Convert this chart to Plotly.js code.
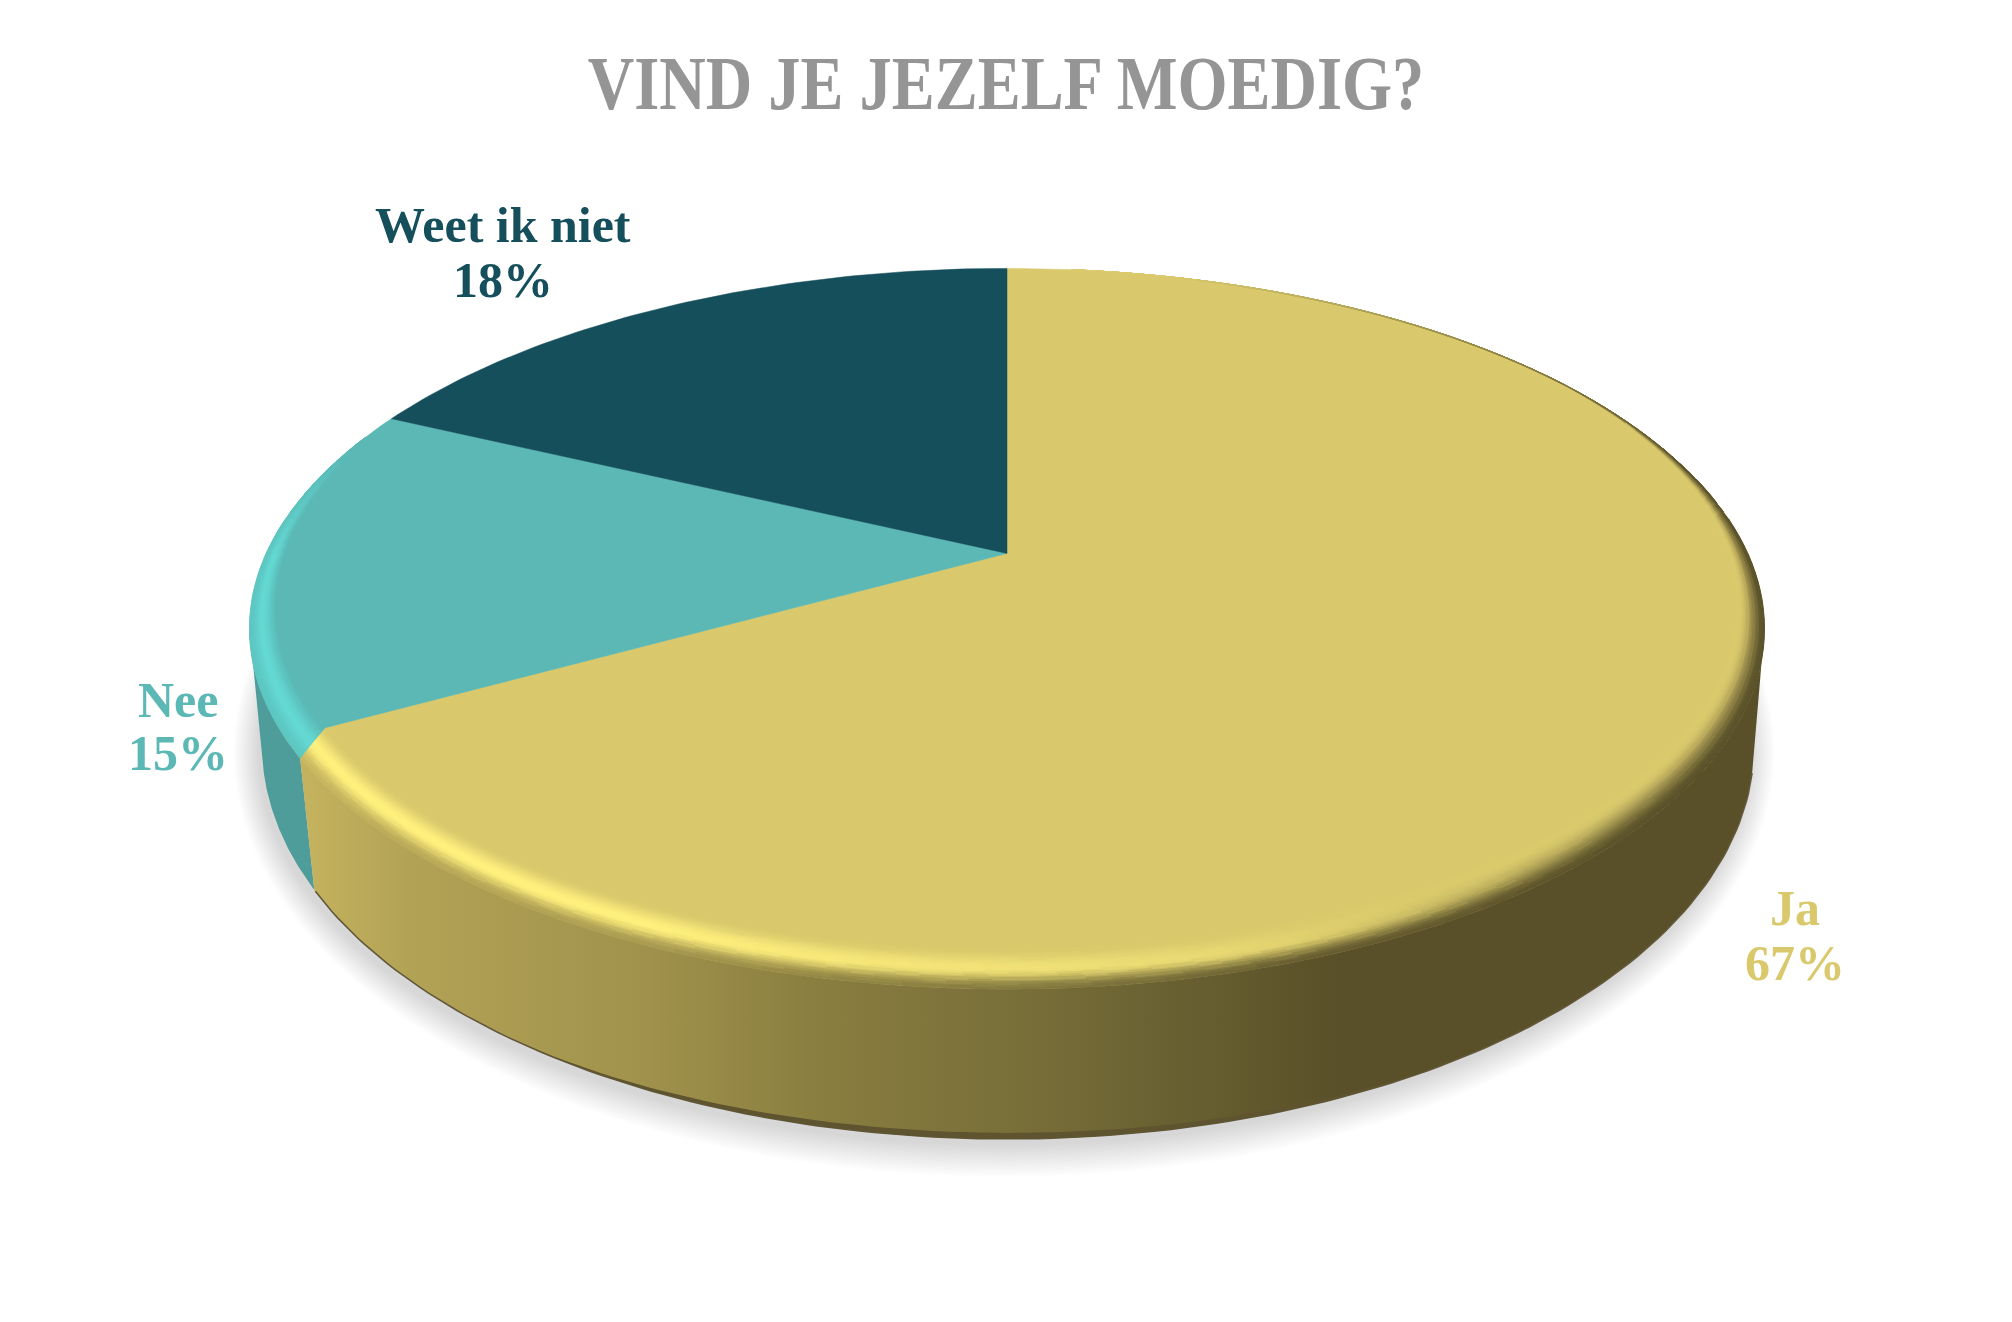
<!DOCTYPE html>
<html><head><meta charset="utf-8">
<script src="https://cdn.plot.ly/plotly-3.0.1.min.js"></script>
<style>html,body{margin:0;padding:0;background:#fff}</style>
</head><body><div id="chart" style="width:2012px;height:1322px"></div>
<script>
// ---- data ----
const titleText = "VIND JE JEZELF MOEDIG?";
const labels = ["Ja", "Nee", "Weet ik niet"];
const values = [67, 15, 18];
const faceColors = ["#d9c96c", "#5bb8b5", "#144f5b"];
const labelColors = ["#d9c96c", "#5bb8b5", "#144f5b"];
const labelX = [1795, 178, 503];
const labelNameY = [908, 700, 225];
const labelPctY = [963, 753, 280];

// ---- perspective of the disc (in layout pixels) ----
const CX = 1007, APEX = 553.4, K = 740.8, C = 0.2087, A = -229;
const BOT = {cx: 1008, K: 738.9, c: 0.1382, a: -291, b: 690.5};
function proj(th, rho) {
  const u = rho * Math.sin(th), v = rho * Math.cos(th), d = 1 + C * v;
  return [CX + K * u / d, (A * v + APEX) / d];
}
function projBot(th) {
  const u = Math.sin(th), v = Math.cos(th), d = 1 + BOT.c * v;
  return [BOT.cx + BOT.K * u / d, (BOT.a * v + BOT.b) / d];
}
const rad = d => d * Math.PI / 180;
const total = values.reduce((a, b) => a + b, 0);
const starts = [], ends = [];
values.reduce((acc, v, i) => { starts[i] = acc; ends[i] = acc + v / total * 360; return ends[i]; }, 0);
const TWIST = 3.1;

function mix(a, b, t) { return a.map((x, i) => x + (b[i] - x) * t); }
function clamp(x) { return Math.max(0, Math.min(1, x)); }
function ramp(x, x0, x1) { return clamp((x - x0) / (x1 - x0)); }
function smooth(x) { const t = clamp(x); return t * t * (3 - 2 * t); }
function hex(h) { return [1, 3, 5].map(i => parseInt(h.substr(i, 2), 16)); }

const traces = [];
function poly(pts, extra) {
  traces.push(Object.assign({
    type: "scatter", mode: "lines", x: pts.map(p => p[0]), y: pts.map(p => p[1]),
    fill: "toself", line: {width: 0}, hoverinfo: "skip", showlegend: false
  }, extra));
}

// ---- soft shadow ----
const SH_N = 20;
for (let i = 0; i < SH_N; i++) {
  const e = 31 - 31 * i / (SH_N - 1), pts = [];
  for (let d = 0; d <= 360; d += 3) {
    const p = Math.sin(rad(d)), q = Math.cos(rad(d));
    pts.push([1004 + (746 + 0.8 * e) * p, 752 - (394 + e) * q]);
  }
  poly(pts, {fillcolor: "rgba(0,0,0,0.0060)"});
}

// ---- side walls: from the tangent of the outline down to the slice corner ----
const jaEnd = ends[0];
const TANGENT_R = 102, TANGENT_L = 258;
function wall(d0top, d0bot, d1top, d1bot, extra) {
  const top = [], bot = [], n = 140;
  for (let i = 0; i <= n; i++) {
    top.push(proj(rad(d0top + (d1top - d0top) * i / n), 1));
    bot.push(projBot(rad(d0bot + (d1bot - d0bot) * i / n)));
  }
  poly(top.concat(bot.reverse()), extra);
}
wall(jaEnd - TWIST, jaEnd, TANGENT_L, TANGENT_L, {fillcolor: "#4e9d9b"});
wall(TANGENT_R, TANGENT_R, jaEnd - TWIST, jaEnd, {
  fillcolor: "#8a7d40",
  fillgradient: {type: "horizontal", start: 308, stop: 1338, colorscale: [
    [0, "rgb(196,178,94)"], [0.1, "rgb(178,162,85)"], [0.33, "rgb(160,146,76)"],
    [0.5, "rgb(137,125,63)"], [0.72, "rgb(117,108,56)"], [1, "rgb(89,80,41)"]]}
});
// thin dark foot of the wall, swelling at the front
(function () {
  const pts = [];
  for (let d = TANGENT_R; d <= jaEnd; d += 1) pts.push(projBot(rad(d)));
  traces.push({type: "scatter", mode: "lines", x: pts.map(p => p[0]), y: pts.map(p => p[1]),
    line: {color: "#62583a", width: 1.6}, hoverinfo: "skip", showlegend: false});
  const low = [], high = [];
  for (let d = 148; d <= 216; d += 1) {
    const p = projBot(rad(d));
    const h = 6 * Math.sin((d - 148) / 68 * Math.PI);
    low.push(p); high.push([p[0], p[1] - h]);
  }
  poly(low.concat(high.reverse()), {fillcolor: "#5e5430"});
})();

// ---- flat faces, drawn from the values ----
values.forEach((v, i) => {
  const pts = [[CX, APEX]], n = Math.ceil(v * 4);
  for (let j = 0; j <= n; j++) pts.push(proj(rad(starts[i] + (ends[i] - starts[i]) * j / n), 1));
  pts.push([CX, APEX]);
  poly(pts, {fillcolor: faceColors[i], line: {width: 0.5, color: faceColors[i]}, name: labels[i]});
});

// ---- rounded rim ----
function rimWidth(d) {
  return Math.max(0.002, 0.027 - 0.047 * Math.cos(rad(d)));
}
const buckets = {};
function addQuad(col, pts) {
  const key = col.map(c => Math.round(c / 2) * 2).join(",");
  (buckets[key] = buckets[key] || []).push(pts);
}
function wallColorAt(x) {
  const stops = [[308, [196,178,94]], [411, [178,162,85]], [648, [160,146,76]], [823, [137,125,63]], [1050, [117,108,56]], [1338, [89,80,41]]];
  if (x <= stops[0][0]) return stops[0][1];
  for (let i = 1; i < stops.length; i++) if (x <= stops[i][0]) {
    return mix(stops[i-1][1], stops[i][1], (x - stops[i-1][0]) / (stops[i][0] - stops[i-1][0]));
  }
  return stops[stops.length - 1][1];
}
const NT = 18;
function rho(d, t) { return 1 - rimWidth(d) * (1 - t); }
function ring(d0, d1, twistEnd, twistStart, colorFn) {
  const n = Math.ceil((d1 - d0) / 1.5);
  for (let i = 0; i < n; i++) {
    for (let j = 0; j < NT; j++) {
      const t0 = j / NT, t1 = (j + 1) / NT;
      const ang = (f, t) => {
        const a = d0 - twistStart * t, b = d1 - twistEnd * t;
        return a + (b - a) * f;
      };
      const f0 = i / n, f1 = (i + 1) / n;
      const a00 = ang(f0, t0), a10 = ang(f1, t0), a01 = ang(f0, t1), a11 = ang(f1, t1);
      const pts = [proj(rad(a00), rho(a00, t0)), proj(rad(a10), rho(a10, t0)),
                   proj(rad(a11), rho(a11, t1)), proj(rad(a01), rho(a01, t1))];
      addQuad(colorFn((a00 + a11) / 2, (t0 + t1) / 2, pts[0][0]), pts);
    }
  }
}
const jaBase = hex(faceColors[0]), jaHi = [255, 240, 125];
ring(6, jaEnd, TWIST, 0, (d, t, x) => {
  const wc = wallColorAt(x);
  const back = ramp(d, 15, 75);
  const edgeDark = mix(jaBase, wc, back);
  const dark = mix(jaBase, edgeDark, smooth((t - 0.15) / 0.85));
  const L = ramp(d, 150, 205);
  const hi = mix(jaBase, jaHi, 0.18 + 0.82 * L);
  const light = t < 0.5
    ? mix(jaBase, hi, smooth(t / 0.5))
    : mix(hi, wc, 0.9 * smooth((t - 0.5) / 0.5));
  return mix(dark, light, smooth(ramp(d, 125, 170)));
});
const neeBase = hex(faceColors[1]), neeHi = [100, 216, 210], neeWall = [78, 157, 155];
ring(jaEnd, ends[1] - 4, 0, TWIST, (d, t) => {
  const l = 1 - ramp(d, 270, ends[1] - 6);
  const hi = mix(neeBase, neeHi, l);
  const edge = mix(hi, neeWall, 0.3 * l);
  if (t < 0.55) return mix(neeBase, hi, smooth(t / 0.55));
  return mix(hi, edge, smooth((t - 0.55) / 0.45));
});
Object.keys(buckets).forEach(key => {
  const xs = [], ys = [];
  buckets[key].forEach(q => {
    q.concat([q[0]]).forEach(p => { xs.push(p[0]); ys.push(p[1]); });
    xs.push(null); ys.push(null);
  });
  const col = "rgb(" + key + ")";
  traces.push({type: "scatter", mode: "lines", x: xs, y: ys, fill: "toself", fillcolor: col,
    line: {color: col, width: 1}, connectgaps: false, hoverinfo: "skip", showlegend: false});
});

// ---- texts ----
const FONT = "'Liberation Serif', serif";
const annotations = [];
labels.forEach((name, i) => {
  const font = {family: FONT, size: 50, color: labelColors[i]};
  annotations.push({x: labelX[i], y: labelNameY[i], xref: "x", yref: "y", text: "<b>" + name + "</b>", showarrow: false, font: font});
  annotations.push({x: labelX[i], y: labelPctY[i], xref: "x", yref: "y", text: "<b>" + Math.round(values[i] / total * 100) + "%</b>", showarrow: false, font: font});
});

const hidden = {visible: false, fixedrange: true, showgrid: false, zeroline: false};
Plotly.newPlot("chart", traces, {
  width: 2012, height: 1322, margin: {l: 0, r: 0, t: 0, b: 0},
  paper_bgcolor: "#fff", plot_bgcolor: "#fff", showlegend: false, hovermode: false,
  title: {text: "<b>" + titleText + "</b>", x: 0.5, xanchor: "center", y: 1 - 82 / 1322, yanchor: "middle",
    font: {family: FONT, size: 64.4, color: "#959595"}},
  xaxis: Object.assign({range: [0, 2012]}, hidden),
  yaxis: Object.assign({range: [1322, 0]}, hidden),
  annotations: annotations
}, {displayModeBar: false, staticPlot: true}).then(() => {
  const t = document.querySelector(".gtitle");
  if (t) t.setAttribute("transform", "translate(0,82) scale(1,1.18) translate(0,-82)");
});
</script></body></html>
